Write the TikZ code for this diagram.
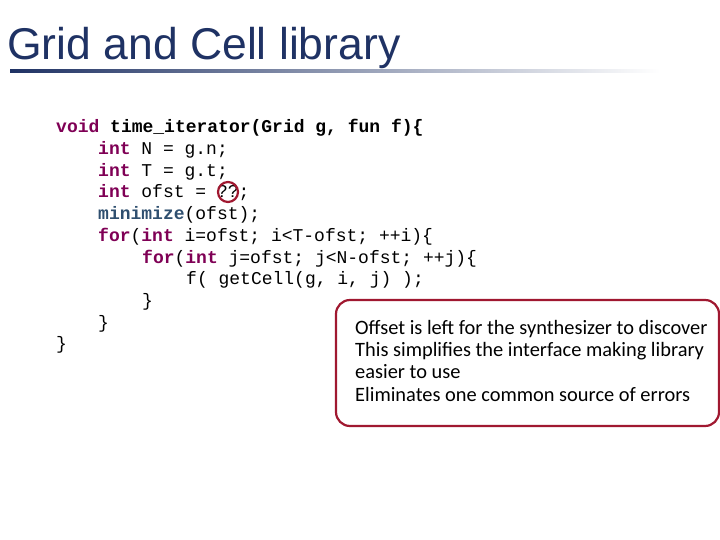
\documentclass[tikz,border=0pt]{standalone}
\usepackage{fontspec}
\setmainfont{Liberation Sans}
\setmonofont{Liberation Mono}
\newfontfamily\calfont{Carlito}
\begin{document}
\begin{tikzpicture}[x=1pt,y=-1pt]
\definecolor{navy}{HTML}{1F3264}
\definecolor{kw}{HTML}{7F0055}
\definecolor{fn}{HTML}{2F4F6F}
\definecolor{dred}{HTML}{A01830}
\tikzset{code/.style={anchor=west,inner sep=0pt,font=\ttfamily\fontsize{18}{18}\selectfont},
 note/.style={anchor=west,inner sep=0pt,font=\calfont\fontsize{20.4}{20}\selectfont}}
\newcommand{\kwd}[1]{\textcolor{kw}{\textbf{#1}}}
\useasboundingbox (0,0) rectangle (720,540);
\node[anchor=west,inner sep=0pt,text=navy,font=\fontsize{44.5}{44}\selectfont] (title) at (7,48) {Grid and Cell library};
\shade[left color=navy,right color=white] (10,70) rectangle (660,73);
\node[code] (l1) at (56,128) {\kwd{void} \textbf{time\_iterator(Grid g, fun f)\{}};
\node[code] (l2) at (98,150) {\kwd{int} N = g.n;};
\node[code] (l3) at (98,172) {\kwd{int} T = g.t;};
\node[code] (l4) at (98,193) {\kwd{int} ofst = ??;};
\node[code] (l5) at (98,215) {\textcolor{fn}{\textbf{minimize}}(ofst);};
\node[code] (l6) at (98,237) {\kwd{for}(\kwd{int} i=ofst; i<T-ofst; ++i)\{};
\node[code] (l7) at (142,259) {\kwd{for}(\kwd{int} j=ofst; j<N-ofst; ++j)\{};
\node[code] (l8) at (186,280) {f( getCell(g, i, j) );};
\node[code] (l9) at (142,302) {\}};
\node[code] (l10) at (98,324) {\}};
\node[code] (l11) at (56,345) {\}};
\draw[dred,line width=2.2pt] (228,192) circle (10);
\draw[dred,line width=2.2pt,rounded corners=14pt,fill=white] (336,300) rectangle (719,426);
\node[note] (n1) at (355,329) {Offset is left for the synthesizer to discover};
\node[note] (n2) at (355,351) {This simplifies the interface making library};
\node[note] (n3) at (355,372) {easier to use};
\node[note] (n4) at (355,394) {Eliminates one common source of errors};
\end{tikzpicture}
\end{document}
